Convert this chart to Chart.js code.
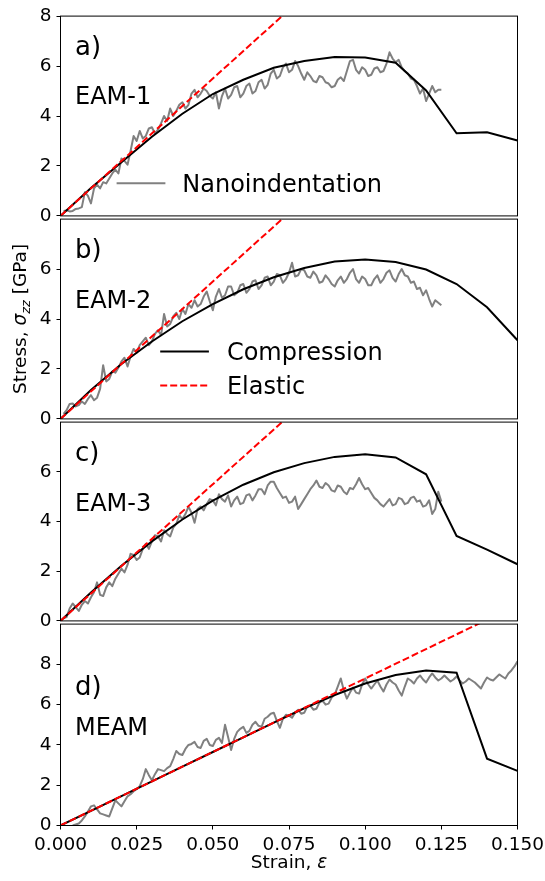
<!DOCTYPE html>
<html>
<head>
<meta charset="utf-8">
<script src="https://cdn.jsdelivr.net/npm/chart.js@4.4.0/dist/chart.umd.min.js"></script>
<style>
  html, body { margin: 0; padding: 0; background: #fff; }
  #fig { position: relative; width: 545px; height: 881px; overflow: hidden; }
  #fig canvas { position: absolute; left: 0; }
</style>
</head>
<body>
<div id="fig">
  <canvas id="panelA"></canvas>
  <canvas id="panelB"></canvas>
  <canvas id="panelC"></canvas>
  <canvas id="panelD"></canvas>
</div>
<script>
// compression (MD) curves, sampled every 0.01 strain
const compStrain = [0, 0.01, 0.02, 0.03, 0.04, 0.05, 0.06, 0.07, 0.08, 0.09, 0.10, 0.11, 0.12, 0.13, 0.14, 0.15]
const compA = [0, 1.12, 2.15, 3.17, 4.09, 4.88, 5.45, 5.93, 6.2, 6.36, 6.34, 6.13, 5.02, 3.31, 3.35, 3.02]
const compB = [0, 1.16, 2.2, 3.1, 3.91, 4.6, 5.19, 5.67, 6.04, 6.3, 6.38, 6.28, 5.98, 5.4, 4.47, 3.15]
const compC = [0, 1.14, 2.22, 3.2, 4.08, 4.84, 5.48, 5.98, 6.35, 6.6, 6.71, 6.58, 5.9, 3.42, 2.87, 2.28]
const compD = [0, 0.73, 1.46, 2.19, 2.92, 3.65, 4.38, 5.11, 5.82, 6.48, 7.05, 7.47, 7.7, 7.59, 3.32, 2.71]

// elastic lines (end points)
const elasticStrain = [0, 0.15]
const elasticA = [0, 16.5]
const elasticB = [0, 16.5]
const elasticC = [0, 16.5]
const elasticD = [0, 10.95]

// nanoindentation curves
const nanoStrain = [
    0.001, 0.002, 0.003, 0.004, 0.005, 0.006, 0.007, 0.008, 0.009, 0.010,
    0.011, 0.012, 0.013, 0.014, 0.015, 0.016, 0.017, 0.018, 0.019, 0.020,
    0.021, 0.022, 0.023, 0.024, 0.025, 0.026, 0.027, 0.028, 0.029, 0.030,
    0.031, 0.032, 0.033, 0.034, 0.035, 0.036, 0.037, 0.038, 0.039, 0.040,
    0.041, 0.042, 0.043, 0.044, 0.045, 0.046, 0.047, 0.048, 0.049, 0.050,
    0.051, 0.052, 0.053, 0.054, 0.055, 0.056, 0.057, 0.058, 0.059, 0.060,
    0.061, 0.062, 0.063, 0.064, 0.065, 0.066, 0.067, 0.068, 0.069, 0.070,
    0.071, 0.072, 0.073, 0.074, 0.075, 0.076, 0.077, 0.078, 0.079, 0.080,
    0.081, 0.082, 0.083, 0.084, 0.085, 0.086, 0.087, 0.088, 0.089, 0.090,
    0.091, 0.092, 0.093, 0.094, 0.095, 0.096, 0.097, 0.098, 0.099, 0.100,
    0.101, 0.102, 0.103, 0.104, 0.105, 0.106, 0.107, 0.108, 0.109, 0.110,
    0.111, 0.112, 0.113, 0.114, 0.115, 0.116, 0.117, 0.118, 0.119, 0.120,
    0.121, 0.122, 0.123, 0.124, 0.125, 0.126, 0.127, 0.128, 0.129, 0.130,
    0.131, 0.132, 0.133, 0.134, 0.135, 0.136, 0.137, 0.138, 0.139, 0.140,
    0.141, 0.142, 0.143, 0.144, 0.145, 0.146, 0.147, 0.148, 0.149, 0.150]
const nanoA = [
    0.2, 0.22, 0.18, 0.2, 0.28, 0.3, 0.35, 0.95, 0.8, 0.5,
    1.1, 1.25, 1.1, 1.35, 1.3, 1.5, 1.7, 1.85, 1.7, 2.3,
    2.2, 2.05, 2.6, 3.2, 3.0, 3.4, 3.1, 3.2, 3.5, 3.55,
    3.3, 3.45, 3.7, 4.0, 3.8, 4.3, 4.0, 4.2, 4.45, 4.55,
    4.3, 4.45, 4.9, 5.05, 4.75, 4.9, 5.1, 5.0, 4.8, 4.7,
    4.95, 4.3, 4.8, 5.1, 4.7, 4.85, 5.15, 5.2, 4.75, 4.9,
    5.2, 5.3, 4.9, 5.0, 5.35, 5.45, 5.1, 5.25, 5.7, 5.85,
    5.5, 5.6, 5.95, 6.1, 5.75, 5.85, 6.2, 6.0, 5.7, 5.45,
    5.75, 5.6, 5.4, 5.35, 5.6, 5.55, 5.35, 5.3, 5.15, 5.2,
    5.45, 5.55, 5.4, 5.8, 6.2, 6.25, 5.85, 5.7, 5.95, 5.85,
    5.6, 5.65, 5.9, 5.95, 5.75, 5.8, 6.1, 6.55, 6.3, 6.15,
    6.25, 5.95, 5.8, 5.7, 5.5, 5.45, 5.2, 4.9, 5.1, 4.6,
    4.9, 5.2, 4.95, 5.05, 5.05]
const nanoB = [
    0.2, 0.35, 0.6, 0.62, 0.5, 0.55, 0.7, 0.6, 0.8, 0.95,
    0.75, 0.85, 1.2, 2.15, 1.5, 1.6, 1.9, 1.85, 2.05, 2.3,
    2.45, 2.1, 2.5, 2.8, 2.65, 2.95, 3.1, 3.25, 2.95, 3.1,
    3.4, 3.55, 3.35, 4.2, 3.7, 3.8, 4.1, 4.25, 4.0, 4.4,
    4.2, 4.6, 4.45, 4.75, 4.5, 4.6, 4.9, 5.1, 4.7, 4.35,
    4.9, 5.2, 4.85, 4.95, 5.3, 5.3, 4.95, 5.05, 5.35, 5.4,
    5.05, 5.2, 5.5, 5.55, 5.2, 5.35, 5.65, 5.7, 5.35, 5.5,
    5.8, 5.75, 5.45, 5.6, 5.85, 6.25, 5.7, 5.75, 6.0, 5.95,
    5.7, 5.65, 5.9, 5.75, 5.45, 5.5, 5.75, 5.6, 5.4, 5.3,
    5.55, 5.7, 5.45, 5.6, 5.85, 6.0, 5.6, 5.45, 5.7, 5.6,
    5.35, 5.35, 5.6, 5.75, 5.45, 5.6, 5.85, 5.95, 5.65, 5.5,
    5.8, 6.0, 5.75, 5.7, 5.45, 5.5, 5.2, 5.25, 4.95, 5.15,
    4.8, 4.5, 4.75, 4.65, 4.55]
const nanoC = [
    0.1, 0.15, 0.5, 0.7, 0.55, 0.4, 0.65, 0.8, 0.7, 0.95,
    1.15, 1.55, 1.05, 1.0, 1.35, 1.55, 1.4, 1.7, 1.9, 2.1,
    1.95, 2.25, 2.7, 2.65, 2.45, 2.55, 2.9, 3.1, 2.9, 3.2,
    3.45, 3.4, 3.2, 3.65, 3.5, 3.4, 3.75, 3.9, 4.25, 4.1,
    4.3, 4.6, 4.35, 3.95, 4.5, 4.6, 4.45, 4.7, 4.9, 4.85,
    4.65, 5.1, 4.9, 4.8, 5.05, 4.6, 4.85, 5.0, 4.7, 4.75,
    5.05, 5.1, 4.85, 5.05, 5.3, 5.3, 5.1, 5.45, 5.6, 5.6,
    5.35, 5.15, 4.95, 5.0, 4.75, 4.8, 5.0, 4.5, 4.7, 4.9,
    5.1, 5.3, 5.45, 5.65, 5.4, 5.35, 5.55, 5.45, 5.25, 5.2,
    5.45, 5.4, 5.2, 5.1, 5.35, 5.3, 5.5, 5.75, 5.5, 5.3,
    5.35, 5.15, 4.95, 4.85, 4.7, 4.6, 4.75, 4.9, 4.65, 4.7,
    4.95, 4.9, 4.7, 4.75, 4.95, 5.0, 4.8, 4.85, 4.6, 4.65,
    4.85, 4.3, 4.5, 5.2, 4.8]
const nanoD = [
    null, null, null, 0.0, 0.05, 0.1, 0.25, 0.45, 0.7, 0.95,
    1.0, 0.8, 0.6, 0.55, 0.5, 0.45, 0.85, 1.25, 1.1, 0.95,
    1.2, 1.45, 1.55, 1.7, 1.8, 1.95, 2.3, 2.8, 2.5, 2.25,
    2.55, 2.8, 2.75, 2.7, 2.85, 2.95, 3.3, 3.7, 3.55, 3.5,
    3.8, 4.0, 4.05, 4.15, 3.9, 3.85, 4.2, 4.3, 4.0, 3.95,
    4.25, 4.35, 4.1, 5.0, 4.4, 3.75, 4.3, 4.65, 4.8, 4.9,
    4.6, 4.7, 5.0, 5.15, 4.95, 4.9, 5.3, 5.4, 5.55, 5.6,
    5.2, 4.85, 5.3, 5.5, 5.45, 5.35, 5.6, 5.75, 5.55, 5.6,
    5.9, 5.95, 5.75, 5.8, 6.1, 6.2, 6.0, 6.05, 6.35, 6.5,
    6.9, 7.3, 6.7, 6.3, 6.6, 6.85, 6.6, 6.55, 7.0, 7.3,
    7.0, 6.8, 7.0, 7.2, 6.9, 6.65, 7.0, 7.25, 7.1, 7.0,
    6.7, 6.45, 6.9, 7.3, 7.2, 7.05, 7.3, 7.45, 7.25, 7.1,
    7.35, 7.55, 7.35, 7.2, 7.3, 7.45, 7.3, 7.15, 7.25, 7.4,
    7.2, 7.05, 7.15, 7.3, 7.2, 7.1, 6.95, 6.8, 7.1, 7.35,
    7.25, 7.2, 7.35, 7.5, 7.4, 7.3, 7.55, 7.7, 7.9, 8.15]

const strainTicks = [0, 0.025, 0.05, 0.075, 0.1, 0.125, 0.15]
const stressTicksTop = [0, 2, 4, 6, 8]
const stressTicksMid = [0, 2, 4, 6]
const stressTicksBottom = [0, 2, 4, 6, 8]

const FONT = "DejaVu Sans"
const TICK_SIZE = 18.5

function pts(xs, ys) {
    return ys.map((y, i) => ({ x: xs[i], y: y }))
}

const panels = [
    {
        id: "panelA", top: 14.5, bottom: 217.5, yMax: 8, yTicks: stressTicksTop,
        label: "a)", name: "EAM-1", labelY: 39, nameY: 88,
        comp: compA, elastic: elasticA, nano: nanoA,
        legend: [
            { text: "Nanoindentation", color: "#808080", dash: [], y: 167.2, x0: 116.6, x1: 165.4, tx: 182.3 }
        ]
    },
    {
        id: "panelB", top: 217.5, bottom: 420.5, yMax: 8, yTicks: stressTicksMid,
        label: "b)", name: "EAM-2", labelY: 39, nameY: 89,
        comp: compB, elastic: elasticB, nano: nanoB, yTitle: true,
        legend: [
            { text: "Compression", color: "#000000", dash: [], y: 132.5, x0: 160.2, x1: 208.9, tx: 226.9 },
            { text: "Elastic", color: "#ff0000", dash: [7, 3], y: 166.5, x0: 160.2, x1: 208.9, tx: 226.9 }
        ]
    },
    {
        id: "panelC", top: 420.5, bottom: 622.5, yMax: 8, yTicks: stressTicksMid,
        label: "c)", name: "EAM-3", labelY: 39, nameY: 89,
        comp: compC, elastic: elasticC, nano: nanoC, legend: []
    },
    {
        id: "panelD", top: 622.5, bottom: 825.5, yMax: 10, yTicks: stressTicksBottom,
        label: "d)", name: "MEAM", labelY: 71, nameY: 111,
        comp: compD, elastic: elasticD, nano: nanoD, legend: [], xAxis: true
    }
]

function drawPieces(ctx, pieces, x, y) {
    let total = 0
    for (const p of pieces) {
        ctx.font = p.font
        p.w = ctx.measureText(p.text).width
        total += p.w
    }
    let cx = x - total / 2
    for (const p of pieces) {
        ctx.font = p.font
        ctx.fillText(p.text, cx, y + (p.dy || 0))
        cx += p.w
    }
}

const figText = {
    id: "figText",
    afterDatasetsDraw(chart, args, opts) {
        const ctx = chart.ctx
        const area = chart.chartArea
        ctx.save()

        ctx.strokeStyle = "#000"
        ctx.lineWidth = 1
        ctx.strokeRect(area.left, area.top, area.right - area.left, area.bottom - area.top)

        ctx.fillStyle = "#000"
        ctx.textAlign = "left"
        ctx.textBaseline = "alphabetic"
        ctx.font = `26px "${FONT}"`
        ctx.fillText(opts.label, 75, area.top + opts.labelY)
        ctx.font = `24px "${FONT}"`
        ctx.fillText(opts.name, 75, area.top + opts.nameY)

        for (const item of opts.legend || []) {
            ctx.beginPath()
            ctx.strokeStyle = item.color
            ctx.lineWidth = 2
            ctx.setLineDash(item.dash)
            ctx.moveTo(item.x0, area.top + item.y)
            ctx.lineTo(item.x1, area.top + item.y)
            ctx.stroke()
            ctx.setLineDash([])
            ctx.font = `24px "${FONT}"`
            ctx.fillText(item.text, item.tx, area.top + item.y + 8.5)
        }

        if (opts.yTitle) {
            ctx.save()
            ctx.translate(25.5, (area.top + area.bottom) / 2)
            ctx.rotate(-Math.PI / 2)
            drawPieces(ctx, [
                { text: "Stress, ", font: `${TICK_SIZE}px "${FONT}"` },
                { text: "σ", font: `italic ${TICK_SIZE}px "${FONT}"` },
                { text: "zz", font: `italic ${TICK_SIZE * 0.7}px "${FONT}"`, dy: 4 },
                { text: " [GPa]", font: `${TICK_SIZE}px "${FONT}"` }
            ], 0, 0)
            ctx.restore()
        }

        if (opts.xTitle) {
            drawPieces(ctx, [
                { text: "Strain, ", font: `${TICK_SIZE}px "${FONT}"` },
                { text: "ε", font: `italic ${TICK_SIZE}px "${FONT}"` }
            ], (area.left + area.right) / 2, area.bottom + 42)
        }

        ctx.restore()
    }
}

const tickGrid = {
    drawOnChartArea: false,
    drawTicks: true,
    tickLength: 4,
    tickColor: "#000",
    tickWidth: 1
}

for (const p of panels) {
    const canvas = document.getElementById(p.id)
    const canvasTop = p.top - 14.5
    const height = p.xAxis ? 881 - canvasTop : (p.bottom - p.top) + 29
    canvas.width = 545
    canvas.height = Math.round(height)
    canvas.style.top = canvasTop + "px"

    const xScale = p.xAxis ? {
        type: "linear",
        min: 0,
        max: 0.15,
        afterBuildTicks: (s) => { s.ticks = strainTicks.map(v => ({ value: v })) },
        afterFit: (s) => {
            s.height = canvas.height - (p.bottom - canvasTop)
            s.paddingLeft = 0
            s.paddingRight = 0
        },
        grid: tickGrid,
        border: { display: false },
        ticks: {
            color: "#000",
            font: { family: FONT, size: TICK_SIZE },
            padding: 5,
            maxRotation: 0,
            autoSkip: false,
            callback: (v) => Number(v).toFixed(3)
        }
    } : { type: "linear", min: 0, max: 0.15, display: false }

    new Chart(canvas, {
        type: "line",
        data: {
            datasets: [
                {
                    label: "Elastic",
                    data: pts(elasticStrain, p.elastic),
                    borderColor: "#ff0000",
                    borderWidth: 2,
                    borderDash: [7, 3],
                    pointRadius: 0,
                    clip: 0
                },
                {
                    label: "Compression",
                    data: pts(compStrain, p.comp),
                    borderColor: "#000000",
                    borderWidth: 2,
                    pointRadius: 0,
                    clip: 0
                },
                {
                    label: "Nanoindentation",
                    data: pts(nanoStrain, p.nano),
                    borderColor: "#808080",
                    borderWidth: 2,
                    borderJoinStyle: "round",
                    pointRadius: 0,
                    clip: 0
                }
            ]
        },
        options: {
            responsive: false,
            animation: false,
            devicePixelRatio: 1,
            layout: {
                padding: { top: 14.5, bottom: p.xAxis ? 0 : 14.5, left: 0, right: 27.5 }
            },
            plugins: {
                legend: { display: false },
                tooltip: { enabled: false },
                figText: {
                    label: p.label,
                    name: p.name,
                    labelY: p.labelY,
                    nameY: p.nameY,
                    legend: p.legend,
                    yTitle: !!p.yTitle,
                    xTitle: !!p.xAxis
                }
            },
            scales: {
                x: xScale,
                y: {
                    min: 0,
                    max: p.yMax,
                    afterBuildTicks: (s) => { s.ticks = p.yTicks.map(v => ({ value: v })) },
                    afterFit: (s) => { s.width = 60.5 },
                    grid: tickGrid,
                    border: { display: false },
                    ticks: {
                        color: "#000",
                        font: { family: FONT, size: TICK_SIZE },
                        padding: 5
                    }
                }
            }
        },
        plugins: [figText]
    })
}
</script>
</body>
</html>
